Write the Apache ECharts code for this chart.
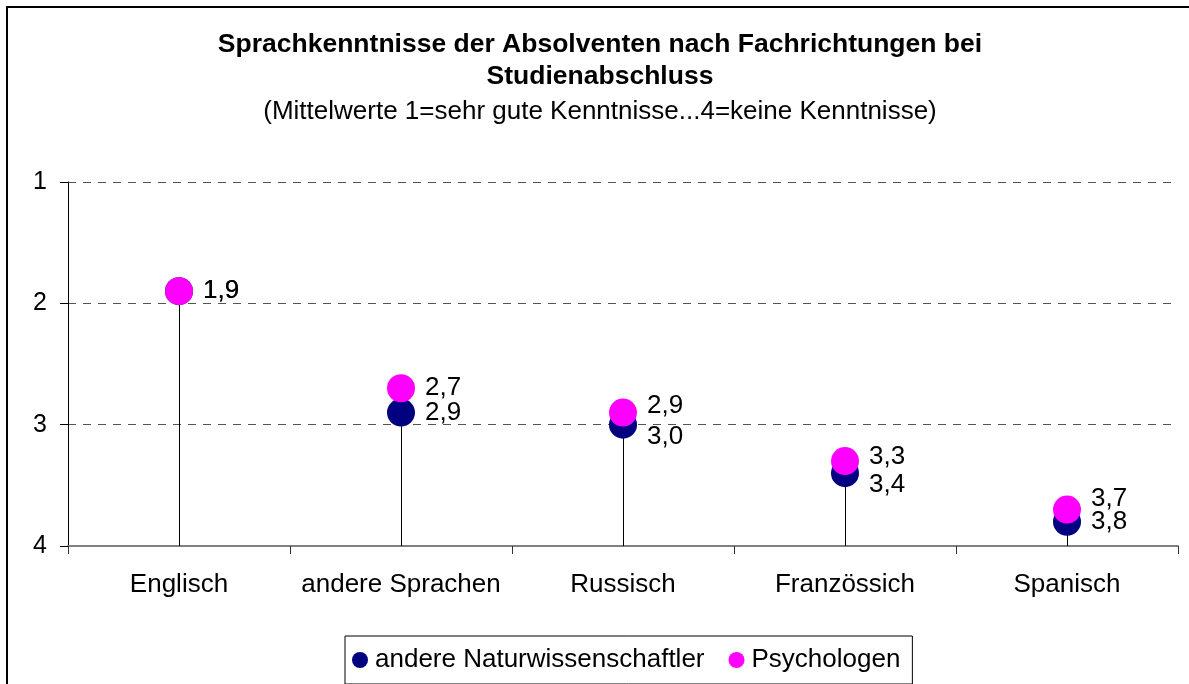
<!DOCTYPE html>
<html>
<head>
<meta charset="utf-8">
<script src="https://cdn.jsdelivr.net/npm/echarts@6/dist/echarts.min.js"></script>
<style>
  html, body { margin: 0; padding: 0; background: #fff; }
  #main { width: 1189px; height: 684px; }
</style>
</head>
<body>
<div id="main"></div>
<script>
var categories = ['Englisch', 'andere Sprachen', 'Russisch', 'Französsich', 'Spanisch'];
var naturwiss = [1.9, 2.9, 3.0, 3.4, 3.8];
var psychologen = [1.9, 2.7, 2.9, 3.3, 3.7];
var yTicks = [1, 2, 3, 4];

var chartDom = document.getElementById('main');
var myChart = echarts.init(chartDom);
var font = '"Liberation Sans", Arial, sans-serif';

// label nudges, as placed by hand in the original
var natShift = [0, 0, 12, 12, 0];
var psyShift = [0, 0, -7, -4, -11];

function fmt(v) {
    return v.toFixed(1).replace('.', ',');
}

function withShift(vals, shifts) {
    return vals.map(function (v, i) {
        return { value: v, label: { offset: [0, shifts[i]] } };
    });
}

var pointLabel = {
    show: true,
    position: 'right',
    distance: 10,
    fontFamily: font,
    fontSize: 26,
    color: '#000',
    formatter: function (p) { return fmt(p.value); }
};

var option = {
    backgroundColor: '#fff',
    animation: false,
    graphic: [{
        type: 'rect',
        shape: { x: 7, y: 7, width: 1300, height: 800 },
        style: { fill: 'none', stroke: '#000', lineWidth: 2 }
    }],
    title: {
        text: 'Sprachkenntnisse der Absolventen nach Fachrichtungen bei\nStudienabschluss',
        subtext: '(Mittelwerte 1=sehr gute Kenntnisse...4=keine Kenntnisse)',
        left: 600,
        textAlign: 'center',
        top: 29,
        padding: 0,
        itemGap: 3,
        textStyle: { fontFamily: font, fontSize: 26.5, fontWeight: 'bold', color: '#000', lineHeight: 32 },
        subtextStyle: { fontFamily: font, fontSize: 26, color: '#000', lineHeight: 32 }
    },
    legend: {
        data: ['andere Naturwissenschaftler', 'Psychologen'],
        left: 345,
        top: 636,
        padding: [11, 12, 11, 7],
        itemWidth: 16,
        itemHeight: 16,
        itemGap: 24,
        icon: 'circle',
        borderColor: '#000',
        borderWidth: 1,
        textStyle: { fontFamily: font, fontSize: 26, color: '#000', lineHeight: 24, padding: [0, 0, 0, 2] }
    },
    grid: {
        left: 68,
        right: 11,
        top: 182,
        bottom: 138
    },
    xAxis: {
        type: 'category',
        data: categories,
        boundaryGap: true,
        axisLine: { lineStyle: { color: '#808080', width: 2 } },
        axisTick: { show: true, interval: 0, length: 8, lineStyle: { color: '#333', width: 1 } },
        axisLabel: { interval: 0, fontFamily: font, fontSize: 26, color: '#000', margin: 26 },
        splitLine: { show: false }
    },
    yAxis: {
        type: 'value',
        inverse: true,
        min: yTicks[0],
        max: yTicks[yTicks.length - 1],
        interval: 1,
        axisLine: { show: true, lineStyle: { color: '#000', width: 1 } },
        axisTick: { show: true, length: 8, lineStyle: { color: '#000' } },
        axisLabel: { fontFamily: font, fontSize: 25, color: '#000', margin: 21 },
        splitLine: { show: true, lineStyle: { color: '#555', type: [8, 7], width: 1 } }
    },
    series: [
        {
            name: 'drop',
            type: 'custom',
            z: 1,
            silent: true,
            data: naturwiss.map(function (v, i) { return [i, Math.min(v, psychologen[i])]; }),
            renderItem: function (params, api) {
                var top = api.coord([api.value(0), api.value(1)]);
                var bottom = api.coord([api.value(0), yTicks[yTicks.length - 1]]);
                var x = Math.round(top[0]) + 0.5;
                return {
                    type: 'line',
                    shape: { x1: x, y1: top[1], x2: x, y2: bottom[1] },
                    style: { stroke: '#000', lineWidth: 1 }
                };
            }
        },
        {
            name: 'andere Naturwissenschaftler',
            type: 'scatter',
            z: 3,
            symbol: 'circle',
            symbolSize: 28,
            itemStyle: { color: '#000080', opacity: 1 },
            label: pointLabel,
            data: withShift(naturwiss, natShift)
        },
        {
            name: 'Psychologen',
            type: 'scatter',
            z: 4,
            symbol: 'circle',
            symbolSize: 28,
            itemStyle: { color: '#FF00FF', opacity: 1 },
            label: pointLabel,
            data: withShift(psychologen, psyShift)
        }
    ]
};

option && myChart.setOption(option);
</script>
</body>
</html>
